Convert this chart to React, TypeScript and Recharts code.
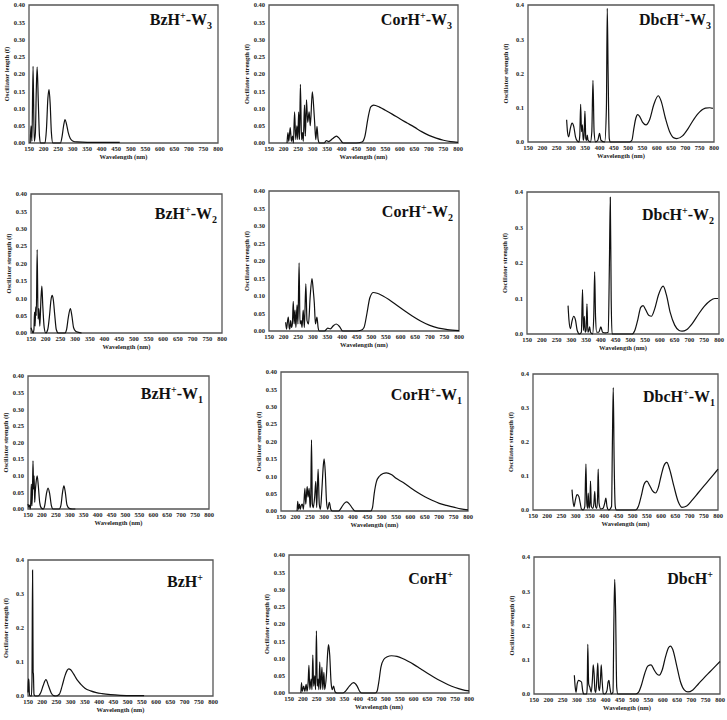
import React from 'react';
import { LineChart, Line, XAxis, YAxis, ReferenceArea } from 'recharts';

// wavelength (nm), oscillator strength (f)
const bzW3: [number, number][] = [
  [154, 0], [157, 0.05], [160, 0.005], [164, 0.222], [168, 0.005], [172, 0.03], [175, 0.15], [178, 0.22], [182, 0.12],
  [186, 0.02], [190, 0], [205, 0], [210, 0.04], [215, 0.13], [219, 0.155], [223, 0.11], [227, 0.03], [232, 0],
  [258, 0], [264, 0.02], [269, 0.05], [274, 0.068], [279, 0.055], [285, 0.03], [292, 0.013], [300, 0.006],
  [315, 0.003], [350, 0.002], [462, 0.002],
];
const corW3: [number, number][] = [
  [212, 0], [215, 0.03], [218, 0.005], [223, 0.045], [227, 0.005], [231, 0.02], [234, 0], [238, 0.09], [242, 0.01],
  [246, 0.05], [249, 0.01], [252, 0.09], [255, 0.01], [258, 0.17], [262, 0.01], [265, 0.03], [268, 0.005],
  [272, 0.11], [275, 0.02], [279, 0.125], [283, 0.06], [288, 0.09], [292, 0.05], [299, 0.148], [304, 0.1],
  [307, 0.06], [311, 0.01], [315, 0.048], [319, 0.01], [324, 0], [340, 0], [347, 0.007], [355, 0.004],
  [368, 0.012], [382, 0.02], [393, 0.012], [405, 0], [450, 0], [470, 0.003], [480, 0.02], [490, 0.07],
  [500, 0.105], [510, 0.11], [530, 0.104], [550, 0.095], [575, 0.083], [600, 0.07], [625, 0.058], [650, 0.046],
  [675, 0.033], [700, 0.022], [725, 0.014], [750, 0.008], [775, 0.004], [800, 0.002],
];
const dbcW3: [number, number][] = [
  [285, 0.065], [288, 0.03], [292, 0.015], [298, 0.04], [304, 0.055], [310, 0.045], [316, 0.015], [322, 0.003],
  [328, 0], [331, 0.02], [334, 0.11], [337, 0.03], [340, 0.05], [343, 0.005], [346, 0.02], [349, 0.09],
  [352, 0.01], [355, 0.005], [357, 0.02], [360, 0.005], [368, 0], [373, 0.03], [377, 0.18], [381, 0.03],
  [386, 0], [394, 0.005], [400, 0.025], [405, 0.005], [418, 0], [424, 0.1], [427, 0.39], [430, 0.2],
  [434, 0.01], [438, 0], [505, 0], [513, 0.005], [520, 0.04], [527, 0.07], [533, 0.08], [540, 0.075],
  [550, 0.058], [562, 0.05], [575, 0.065], [590, 0.11], [605, 0.135], [615, 0.12], [630, 0.07], [645, 0.03],
  [660, 0.012], [670, 0.01], [690, 0.018], [710, 0.04], [730, 0.067], [750, 0.088], [770, 0.099], [785, 0.1],
  [796, 0.098],
];
const bzW2: [number, number][] = [
  [150, 0.015], [153, 0.008], [157, 0], [160, 0.01], [162, 0.06], [164, 0.02], [166, 0.075], [168, 0.05],
  [171, 0.24], [174, 0.04], [177, 0.07], [180, 0.02], [184, 0.1], [187, 0.135], [190, 0.08], [195, 0.015],
  [200, 0], [207, 0.01], [213, 0.05], [218, 0.095], [222, 0.108], [226, 0.095], [231, 0.05], [236, 0.01],
  [243, 0], [265, 0], [271, 0.01], [277, 0.045], [284, 0.07], [289, 0.05], [295, 0.015], [302, 0.005],
  [312, 0.002], [322, 0],
];
const corW2: [number, number][] = [
  [207, 0.025], [210, 0.005], [213, 0.025], [216, 0.04], [219, 0.01], [221, 0.005], [224, 0.03], [227, 0.01],
  [230, 0.02], [233, 0.085], [236, 0.02], [239, 0.06], [242, 0.01], [246, 0.075], [249, 0.02], [253, 0.195],
  [256, 0.02], [260, 0.03], [263, 0.01], [267, 0.06], [271, 0.01], [276, 0.135], [280, 0.03], [285, 0.02],
  [291, 0.1], [297, 0.15], [301, 0.12], [305, 0.08], [309, 0.02], [314, 0.04], [318, 0.01], [322, 0], [340, 0],
  [351, 0.008], [360, 0.006], [370, 0.015], [380, 0.02], [392, 0.012], [402, 0], [450, 0], [465, 0.002],
  [475, 0.01], [485, 0.05], [495, 0.095], [507, 0.11], [520, 0.108], [540, 0.1], [560, 0.09], [585, 0.075],
  [610, 0.06], [640, 0.043], [670, 0.028], [700, 0.016], [730, 0.008], [760, 0.004], [800, 0.001],
];
const dbcW2: [number, number][] = [
  [289, 0.08], [292, 0.04], [297, 0.015], [302, 0.035], [308, 0.05], [314, 0.04], [320, 0.01], [328, 0],
  [334, 0.005], [338, 0.125], [341, 0.01], [344, 0.05], [347, 0.005], [350, 0.01], [353, 0.085], [356, 0.005],
  [359, 0.01], [362, 0.02], [365, 0.005], [372, 0], [376, 0.05], [379, 0.175], [382, 0.05], [386, 0.005],
  [393, 0.005], [400, 0.02], [406, 0.005], [415, 0.003], [425, 0.005], [429, 0.2], [432, 0.385], [435, 0.1],
  [438, 0], [505, 0], [515, 0.01], [525, 0.04], [535, 0.075], [543, 0.08], [552, 0.068], [563, 0.052],
  [571, 0.05], [582, 0.07], [595, 0.11], [611, 0.135], [622, 0.11], [635, 0.06], [650, 0.025], [665, 0.01],
  [675, 0.008], [690, 0.012], [710, 0.03], [730, 0.055], [750, 0.078], [770, 0.094], [786, 0.1], [797, 0.1],
];
const bzW1: [number, number][] = [
  [150, 0.015], [153, 0.005], [156, 0.012], [158, 0], [160, 0.02], [162, 0.075], [164, 0.01], [166, 0.05],
  [168, 0.145], [170, 0.06], [172, 0.1], [174, 0.02], [176, 0.05], [179, 0.08], [183, 0.1], [187, 0.07],
  [192, 0.02], [198, 0.003], [205, 0], [210, 0.01], [216, 0.045], [222, 0.063], [228, 0.045], [234, 0.01],
  [240, 0], [262, 0], [268, 0.01], [274, 0.05], [279, 0.07], [284, 0.05], [290, 0.012], [298, 0.002],
  [310, 0], [320, 0],
];
const corW1: [number, number][] = [
  [206, 0], [208, 0.028], [211, 0.005], [214, 0.02], [217, 0.005], [220, 0.015], [224, 0.02], [228, 0.005],
  [233, 0.065], [236, 0.02], [238, 0.04], [241, 0.07], [244, 0.04], [248, 0.065], [251, 0.01], [253, 0.02],
  [256, 0.205], [259, 0.02], [262, 0.01], [267, 0.04], [271, 0.085], [274, 0.01], [279, 0.12], [283, 0.02],
  [287, 0.005], [292, 0.06], [297, 0.13], [300, 0.15], [304, 0.11], [308, 0.03], [312, 0.005], [318, 0.025],
  [323, 0.005], [328, 0], [350, 0], [360, 0.01], [370, 0.022], [378, 0.026], [388, 0.02], [398, 0.008],
  [407, 0], [462, 0], [468, 0.01], [474, 0.05], [482, 0.085], [492, 0.1], [505, 0.108], [516, 0.11],
  [535, 0.104], [550, 0.094], [575, 0.082], [600, 0.067], [625, 0.053], [650, 0.041], [675, 0.031],
  [700, 0.022], [725, 0.016], [750, 0.011], [775, 0.006], [800, 0.003],
];
const dbcW1: [number, number][] = [
  [287, 0.06], [290, 0.03], [294, 0.01], [299, 0.03], [305, 0.045], [311, 0.04], [316, 0.02], [320, 0.003],
  [326, 0], [332, 0.01], [336, 0.135], [339, 0.02], [342, 0.005], [344, 0.05], [347, 0.005], [350, 0.02],
  [352, 0.085], [355, 0.01], [360, 0.005], [364, 0.02], [367, 0.055], [370, 0.01], [374, 0.005], [377, 0.04],
  [379, 0.12], [382, 0.02], [388, 0.003], [396, 0.005], [402, 0.02], [406, 0.035], [410, 0.01], [416, 0],
  [426, 0.01], [429, 0.2], [432, 0.36], [435, 0.15], [439, 0.01], [443, 0], [510, 0], [520, 0.01],
  [530, 0.04], [540, 0.075], [550, 0.085], [560, 0.072], [570, 0.056], [580, 0.05], [590, 0.065], [600, 0.1],
  [610, 0.13], [620, 0.14], [630, 0.12], [645, 0.07], [660, 0.025], [673, 0.008], [690, 0.012], [710, 0.03],
  [730, 0.05], [750, 0.07], [770, 0.09], [785, 0.105], [800, 0.12],
];
const bzH: [number, number][] = [
  [150, 0.01], [151, 0.05], [153, 0.05], [155, 0.005], [158, 0], [162, 0], [164, 0.05], [166, 0.37],
  [167, 0.25], [168, 0.07], [169, 0.065], [171, 0.005], [175, 0], [185, 0], [195, 0.01], [203, 0.03],
  [213, 0.048], [222, 0.03], [232, 0.008], [240, 0.001], [248, 0], [260, 0.005], [270, 0.03], [280, 0.06],
  [288, 0.076], [293, 0.08], [300, 0.077], [310, 0.065], [322, 0.048], [335, 0.035], [350, 0.023],
  [370, 0.015], [390, 0.01], [410, 0.007], [440, 0.004], [475, 0.002], [510, 0.001], [558, 0.001],
];
const corH: [number, number][] = [
  [193, 0], [195, 0.03], [198, 0.005], [203, 0.02], [207, 0.005], [212, 0.025], [215, 0.005], [219, 0.03],
  [222, 0.08], [225, 0.01], [230, 0.04], [233, 0.01], [236, 0.11], [239, 0.02], [243, 0.05], [246, 0.01],
  [249, 0.18], [252, 0.02], [255, 0.04], [258, 0.01], [261, 0.09], [264, 0.01], [269, 0.075], [272, 0.01],
  [276, 0.06], [279, 0.01], [285, 0.05], [290, 0.12], [293, 0.14], [297, 0.11], [302, 0.03], [306, 0.01],
  [311, 0.02], [316, 0.004], [323, 0], [345, 0], [355, 0.006], [368, 0.02], [383, 0.03], [396, 0.02],
  [405, 0.005], [412, 0], [462, 0], [468, 0.005], [474, 0.03], [482, 0.075], [492, 0.097], [505, 0.105],
  [520, 0.108], [540, 0.106], [560, 0.1], [580, 0.092], [600, 0.083], [625, 0.07], [650, 0.057], [675, 0.045],
  [700, 0.034], [725, 0.024], [750, 0.016], [775, 0.01], [800, 0.006],
];
const dbcH: [number, number][] = [
  [291, 0.055], [294, 0.02], [297, 0.005], [301, 0.03], [306, 0.04], [311, 0.038], [316, 0.035], [320, 0.01],
  [324, 0], [334, 0], [336, 0.02], [338, 0.145], [341, 0.03], [345, 0.02], [350, 0.005], [354, 0.04],
  [357, 0.085], [360, 0.06], [363, 0.01], [366, 0.005], [370, 0.05], [373, 0.09], [376, 0.02], [379, 0.01],
  [382, 0.04], [385, 0.085], [388, 0.04], [392, 0.002], [397, 0], [405, 0.01], [409, 0.035], [412, 0.04],
  [415, 0.02], [420, 0], [426, 0.005], [429, 0.2], [432, 0.335], [435, 0.25], [439, 0.02], [443, 0],
  [505, 0], [515, 0.005], [525, 0.025], [537, 0.06], [548, 0.082], [559, 0.085], [570, 0.07], [580, 0.058],
  [588, 0.055], [598, 0.07], [610, 0.11], [620, 0.135], [627, 0.14], [635, 0.13], [648, 0.085], [662, 0.035],
  [675, 0.012], [688, 0.006], [705, 0.012], [725, 0.03], [745, 0.048], [765, 0.065], [785, 0.082], [800, 0.095],
];

const xTicks = [150, 200, 250, 300, 350, 400, 450, 500, 550, 600, 650, 700, 750, 800];
const yTicksFine = [0, 0.05, 0.1, 0.15, 0.2, 0.25, 0.3, 0.35, 0.4];
const yTicksCoarse = [0, 0.1, 0.2, 0.3, 0.4];

const FONT = '"Liberation Serif", "Times New Roman", serif';

type Panel = {
  data: [number, number][];
  name: string;
  sub?: string;
  yLabel: string;
  fine: boolean;
  box: [number, number, number, number]; // left, top, right, bottom of plot frame
  titleTop: number;
  titleRight: number;
};

const panels: Panel[] = [
  { data: bzW3, name: 'BzH', sub: '3', yLabel: 'Oscillator length (f)', fine: true, box: [29, 5, 218, 143], titleTop: 11, titleRight: 6 },
  { data: corW3, name: 'CorH', sub: '3', yLabel: 'Oscillator strength (f)', fine: true, box: [269, 5, 458, 143], titleTop: 11, titleRight: 6 },
  { data: dbcW3, name: 'DbcH', sub: '3', yLabel: 'Oscillator strength (f)', fine: false, box: [528, 5, 714, 142], titleTop: 11, titleRight: 3 },
  { data: bzW2, name: 'BzH', sub: '2', yLabel: 'Oscillator strength (f)', fine: true, box: [31, 194, 222, 333], titleTop: 205, titleRight: 5 },
  { data: corW2, name: 'CorH', sub: '2', yLabel: 'Oscillator strength (f)', fine: true, box: [269, 191, 459, 331], titleTop: 203, titleRight: 6 },
  { data: dbcW2, name: 'DbcH', sub: '2', yLabel: 'Oscillator strength (f)', fine: false, box: [527, 192, 719, 334], titleTop: 206, titleRight: 5 },
  { data: bzW1, name: 'BzH', sub: '1', yLabel: 'Oscillator strength (f)', fine: true, box: [28, 376, 209, 509], titleTop: 385, titleRight: 6 },
  { data: corW1, name: 'CorH', sub: '1', yLabel: 'Oscillator strength (f)', fine: true, box: [281, 372, 468, 511], titleTop: 386, titleRight: 6 },
  { data: dbcW1, name: 'DbcH', sub: '1', yLabel: 'Oscillator strength (f)', fine: false, box: [533, 374, 718, 510], titleTop: 388, titleRight: 3 },
  { data: bzH, name: 'BzH', yLabel: 'Oscillator strength (f)', fine: false, box: [28, 560, 213, 696], titleTop: 573, titleRight: 10 },
  { data: corH, name: 'CorH', yLabel: 'Oscillator strength (f)', fine: true, box: [289, 555, 469, 693], titleTop: 570, titleRight: 16 },
  { data: dbcH, name: 'DbcH', yLabel: 'Oscillator strength (f)', fine: false, box: [534, 557, 720, 694], titleTop: 570, titleRight: 7 },
];

const tickStyle = { fontSize: 6.5, fontWeight: 700, fill: '#222', fontFamily: FONT };
const ML = 30, MT = 4, MR = 12, XH = 22;

function SpectrumPanel({ p }: { p: Panel }) {
  const [l, t, r, b] = p.box;
  const rows = p.data.map(([w, f]) => ({ w, f }));
  const ticks = p.fine ? yTicksFine : yTicksCoarse;
  return (
    <>
      <div style={{ position: 'absolute', left: l - ML, top: t - MT }}>
        <LineChart width={r - l + ML + MR} height={b - t + MT + XH} data={rows} margin={{ top: MT, right: MR, left: 0, bottom: 0 }}>
          <XAxis
            dataKey="w"
            type="number"
            domain={[150, 800]}
            ticks={xTicks}
            interval={0}
            axisLine={false}
            tickLine={false}
            tickSize={0}
            tickMargin={3}
            height={XH}
            tick={tickStyle}
            label={{ value: 'Wavelength (nm)', position: 'insideBottom', offset: 6, style: { fontSize: 6.5, fontWeight: 700, fill: '#222', fontFamily: FONT } }}
          />
          <YAxis
            type="number"
            domain={[0, 0.4]}
            ticks={ticks}
            interval={0}
            axisLine={false}
            tickLine={false}
            tickSize={0}
            tickMargin={4}
            width={ML}
            tick={tickStyle}
            tickFormatter={(v: number) => v.toFixed(p.fine ? 2 : 1)}
            label={{ value: p.yLabel, angle: -90, position: 'insideLeft', offset: 8, style: { textAnchor: 'middle', fontSize: 6.5, fontWeight: 700, fill: '#222', fontFamily: FONT } }}
          />
          <ReferenceArea x1={150} x2={800} y1={0} y2={0.4} fill="none" stroke="#555" strokeWidth={1.3} />
          <Line type="monotone" dataKey="f" stroke="#111" strokeWidth={1.2} dot={false} isAnimationActive={false} />
        </LineChart>
      </div>
      <div
        style={{
          position: 'absolute',
          right: 727 - r + p.titleRight,
          top: p.titleTop,
          fontFamily: FONT,
          fontWeight: 700,
          fontSize: 16,
          lineHeight: 1,
          color: '#111',
          whiteSpace: 'nowrap',
        }}
      >
        {p.name}
        <span style={{ fontSize: 10, verticalAlign: 6 }}>+</span>
        {p.sub ? (
          <>
            -W<span style={{ fontSize: 10, verticalAlign: -4 }}>{p.sub}</span>
          </>
        ) : null}
      </div>
    </>
  );
}

export default function App() {
  return (
    <div style={{ position: 'absolute', left: 0, top: 0, width: 727, height: 720, background: '#fff', overflow: 'hidden' }}>
      {panels.map((p, i) => (
        <SpectrumPanel key={i} p={p} />
      ))}
    </div>
  );
}
